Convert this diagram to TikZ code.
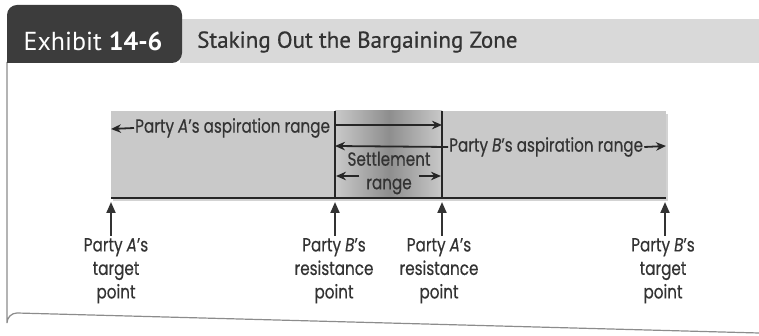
\documentclass[tikz,border=0pt]{standalone}
\usepackage{fontspec}
\setmainfont{PT Sans}
\newfontfamily\zonefont[FakeStretch=0.8, FakeBold=0.4]{Poppins}
\usetikzlibrary{arrows.meta,shadows,positioning}
\definecolor{tabgray}{HTML}{3C3C3C}
\definecolor{bargray}{HTML}{D9D9D9}
\definecolor{zonegray}{HTML}{C9C9C9}
\definecolor{deepgray}{HTML}{8E8E8E}
\definecolor{inkgray}{HTML}{333333}
\begin{document}
\begin{tikzpicture}[x=1pt, y=-1pt,
    every node/.style={inner sep=1pt, text=inkgray},
    zone/.style={font=\zonefont\fontsize{19}{23.5}\selectfont},
    pointlbl/.style={zone, align=center, anchor=north},
    upline/.style={draw=inkgray, line width=2pt, -{Triangle[length=11pt,width=9pt]}},
    rangeline/.style={draw=black!85, line width=1.8pt, -{Stealth[length=10pt,width=8.5pt]}}]
  \useasboundingbox (0,0) rectangle (759,336);
  % frame and heading
  \draw[black!45, line width=1.2pt] (7,62) -- (7,323) arc[start angle=180, end angle=270, radius=10] -- (759,333);
  \fill[bargray] (180,19) rectangle (759,63);
  \fill[tabgray, rounded corners=10pt] (7,63) -- (7,5) -- (182,5) -- (182,63) [sharp corners] -- cycle;
  \node (tab) at (93,41) {\fontsize{26}{30}\selectfont\color{white}Exhibit \textbf{14-6}};
  \node (title) [anchor=west] at (196,42) {\fontsize{23}{27}\selectfont\addfontfeatures{FakeBold=0.6}Staking Out the Bargaining Zone};
  % bargaining zone
  \fill[zonegray, drop shadow={opacity=0.35, shadow xshift=2pt, shadow yshift=-3pt}] (111,111) rectangle (666,198);
  \shade[left color=zonegray, right color=deepgray] (335,111) rectangle (389,197);
  \shade[left color=deepgray, right color=zonegray] (389,111) rectangle (442,197);
  \draw[black!85, line width=1.6pt] (335,111) -- (335,198);
  \draw[black!85, line width=1.6pt] (442,111) -- (442,198);
  \draw[black!85, line width=2.6pt] (111,198) -- (666,198);
  % ranges
  \coordinate (l1) at (335,125);
  \coordinate (r1) at (442,125);
  \coordinate (l2) at (335,146);
  \coordinate (r2) at (666,146);
  \node (aspa) [zone, anchor=west] at (134,128) {Party \textit{A}’s aspiration range};
  \coordinate (ea) at (111,129);
  \draw[rangeline] (aspa.west) -- (ea);
  \draw[rangeline] (l1) -- (r1);
  \node (aspb) [zone, anchor=west] at (448,147) {Party \textit{B}’s aspiration range};
  \draw[rangeline] (aspb.west) -- (l2);
  \draw[rangeline] (aspb.east) -- (r2);
  \node (settle) [zone, align=center] at (389,173) {Settlement\\range};
  \coordinate (sl) at (359,176);
  \coordinate (sr) at (419,176);
  \coordinate (sl2) at (336,176);
  \coordinate (sr2) at (441,176);
  \draw[rangeline] (sl) -- (sl2);
  \draw[rangeline] (sr) -- (sr2);
  % points
  \node (ta) [pointlbl] at (116,237) {Party \textit{A}’s\\target\\point};
  \node (rb) [pointlbl] at (334,237) {Party \textit{B}’s\\resistance\\point};
  \node (ra) [pointlbl] at (439,237) {Party \textit{A}’s\\resistance\\point};
  \node (tb) [pointlbl] at (663,237) {Party \textit{B}’s\\target\\point};
  \coordinate (pa) at (111,202);
  \coordinate (pb) at (335,202);
  \coordinate (pc) at (442,202);
  \coordinate (pd) at (665,202);
  \draw[upline] (111,236) -- (pa);
  \draw[upline] (335,236) -- (pb);
  \draw[upline] (442,236) -- (pc);
  \draw[upline] (665,236) -- (pd);
\end{tikzpicture}
\end{document}
